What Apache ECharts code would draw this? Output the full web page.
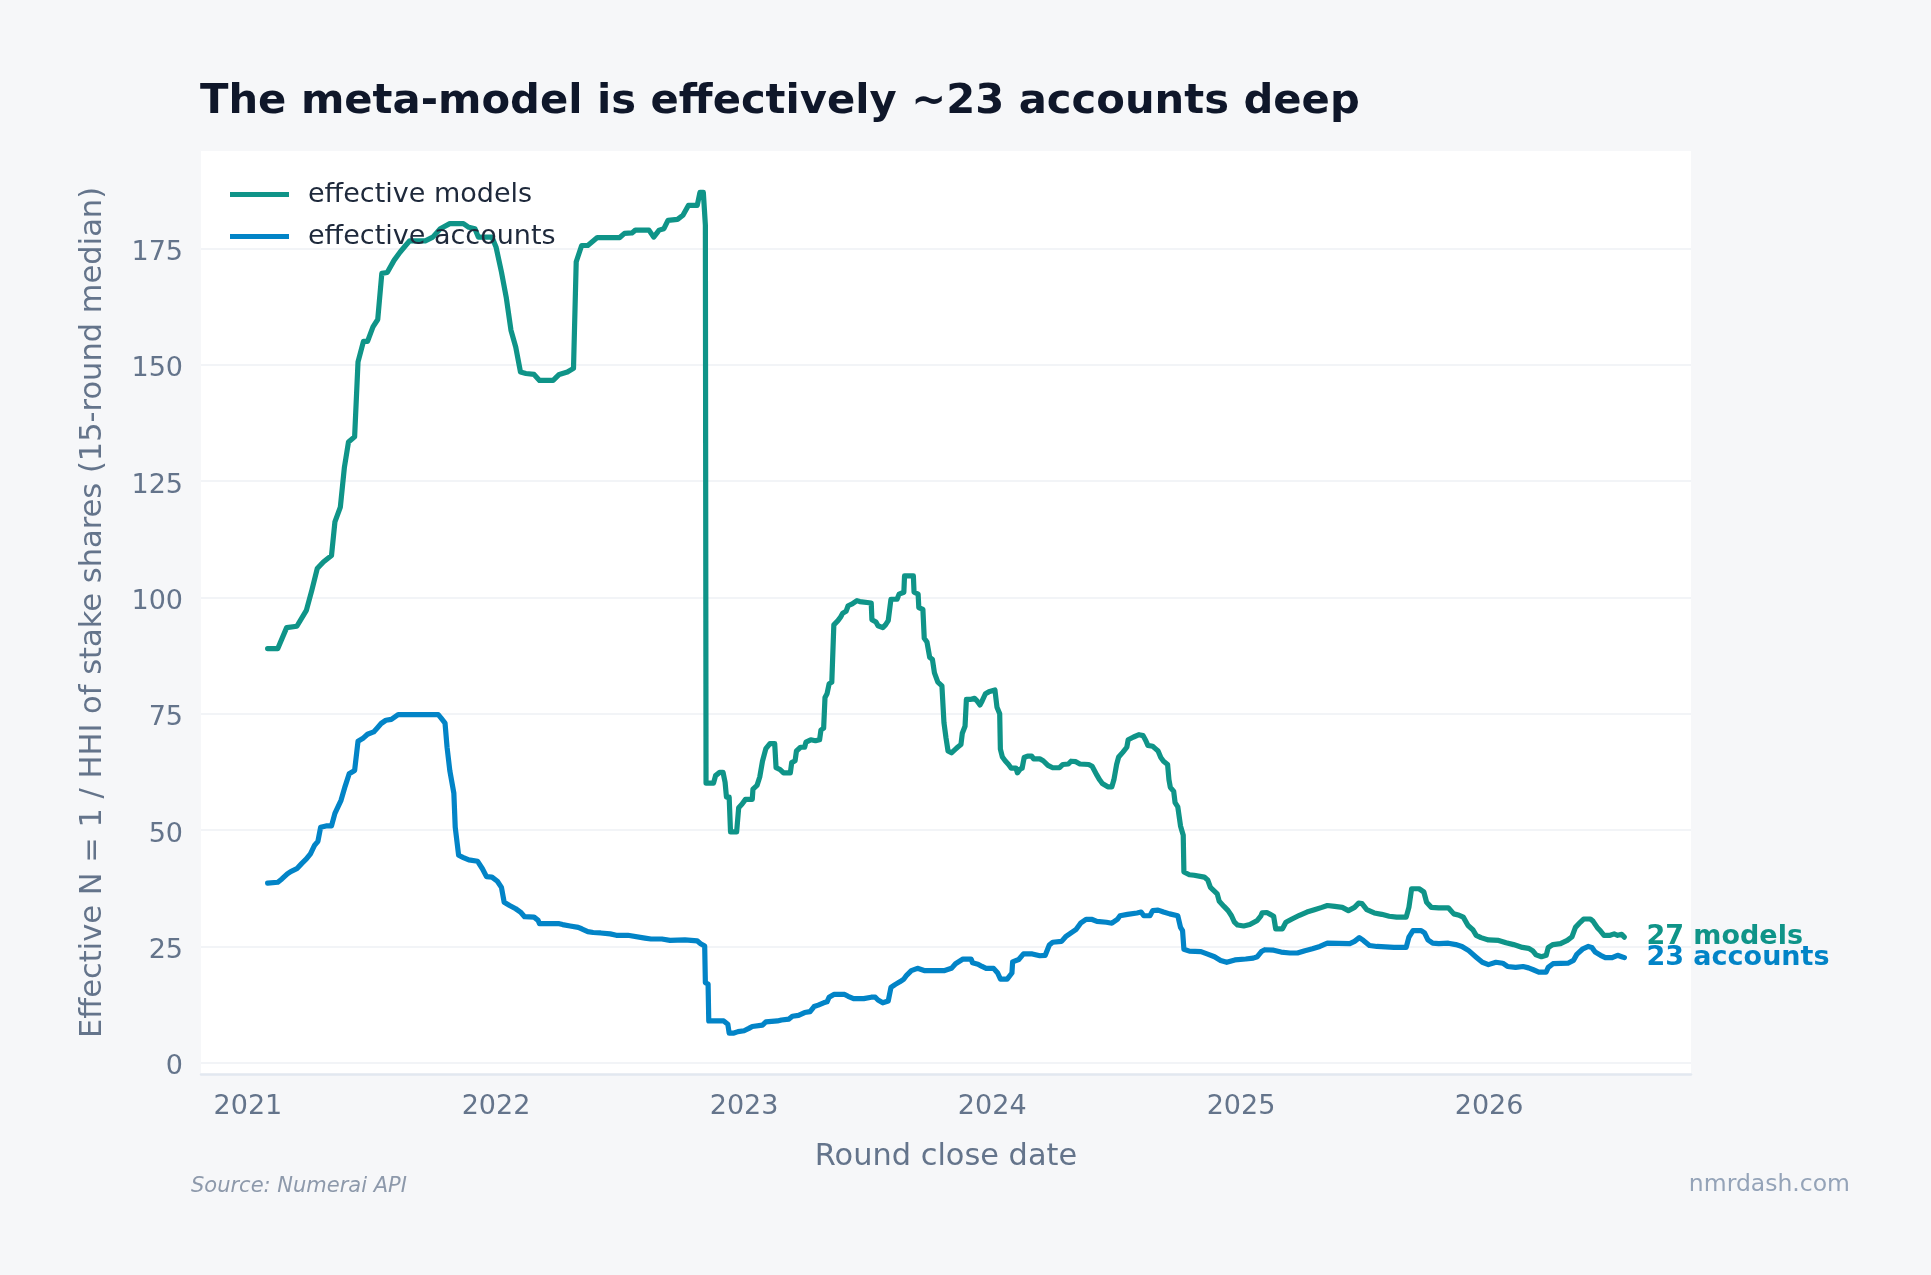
<!DOCTYPE html>
<html style="height: 100%">
<head>
    <meta charset="utf-8">
</head>
<body style="height: 100%; margin: 0; background: #f6f7f9">
<div id="container" style="width: 1931px; height: 1275px"></div>

<script type="text/javascript" src="https://cdn.jsdelivr.net/npm/echarts@6/dist/echarts.min.js"></script>
<script type="text/javascript">
    // effective number of models (1 / HHI of stake shares, 15-round median)
    var modelsSeries = [
        ['2021-01-30', 89.0], ['2021-02-14', 89.0], ['2021-02-27', 93.5], ['2021-03-14', 93.8], ['2021-03-28', 97.2],
        ['2021-04-05', 101.5], ['2021-04-13', 106.2], ['2021-04-22', 107.6], ['2021-05-04', 109.0], ['2021-05-09', 116.2],
        ['2021-05-17', 119.4], ['2021-05-23', 128.0], ['2021-05-29', 133.4], ['2021-06-07', 134.5], ['2021-06-12', 150.6],
        ['2021-06-20', 155.0], ['2021-06-26', 155.0], ['2021-07-04', 158.1], ['2021-07-11', 159.7], ['2021-07-17', 169.6],
        ['2021-07-25', 169.8], ['2021-08-04', 172.4], ['2021-08-13', 174.2], ['2021-08-21', 175.6], ['2021-08-27', 176.6],
        ['2021-09-19', 176.6], ['2021-09-30', 177.4], ['2021-10-11', 179.2], ['2021-10-25', 180.3], ['2021-11-14', 180.3],
        ['2021-11-22', 179.5], ['2021-12-01', 179.2], ['2021-12-06', 177.4], ['2021-12-26', 177.4], ['2022-01-01', 175.3],
        ['2022-01-09', 169.9], ['2022-01-16', 164.5], ['2022-01-23', 157.4], ['2022-01-30', 153.8], ['2022-02-06', 148.4],
        ['2022-02-14', 148.1], ['2022-02-26', 147.9], ['2022-03-06', 146.6], ['2022-03-26', 146.6], ['2022-04-04', 147.9],
        ['2022-04-16', 148.4], ['2022-04-25', 149.2], ['2022-04-29', 172.1], ['2022-05-07', 175.6], ['2022-05-16', 175.6],
        ['2022-05-30', 177.3], ['2022-07-02', 177.3], ['2022-07-09', 178.2], ['2022-07-20', 178.3], ['2022-07-25', 178.9],
        ['2022-08-14', 178.9], ['2022-08-21', 177.4], ['2022-08-29', 178.9], ['2022-09-05', 179.2], ['2022-09-11', 181.0],
        ['2022-09-25', 181.2], ['2022-10-03', 182.1], ['2022-10-11', 184.2], ['2022-10-24', 184.2], ['2022-10-28', 187.0],
        ['2022-11-02', 187.0], ['2022-11-05', 180.0], ['2022-11-06', 60.1], ['2022-11-17', 60.1], ['2022-11-20', 61.7],
        ['2022-11-26', 62.4], ['2022-12-01', 62.4], ['2022-12-04', 60.3], ['2022-12-06', 57.1], ['2022-12-10', 57.1],
        ['2022-12-12', 49.6], ['2022-12-21', 49.6], ['2022-12-24', 54.8], ['2022-12-29', 55.6], ['2023-01-03', 56.6],
        ['2023-01-13', 56.6], ['2023-01-14', 58.8], ['2023-01-20', 59.6], ['2023-01-24', 61.4], ['2023-01-28', 64.8],
        ['2023-02-02', 67.5], ['2023-02-08', 68.6], ['2023-02-15', 68.6], ['2023-02-17', 63.4], ['2023-02-23', 63.0],
        ['2023-02-28', 62.3], ['2023-03-10', 62.3], ['2023-03-12', 64.5], ['2023-03-17', 64.9], ['2023-03-19', 67.0],
        ['2023-03-25', 67.8], ['2023-03-31', 67.8], ['2023-04-02', 68.9], ['2023-04-09', 69.4], ['2023-04-16', 69.2],
        ['2023-04-22', 69.4], ['2023-04-24', 71.5], ['2023-04-28', 71.9], ['2023-04-30', 78.5], ['2023-05-03', 79.3],
        ['2023-05-06', 81.4], ['2023-05-10', 81.8], ['2023-05-13', 94.1], ['2023-05-19', 95.0], ['2023-05-23', 95.8],
        ['2023-05-26', 96.6], ['2023-05-31', 97.0], ['2023-06-03', 98.2], ['2023-06-09', 98.6], ['2023-06-16', 99.3],
        ['2023-06-20', 99.1], ['2023-07-07', 98.8], ['2023-07-08', 95.2], ['2023-07-14', 94.7], ['2023-07-17', 93.9],
        ['2023-07-24', 93.5], ['2023-07-28', 94.1], ['2023-08-01', 95.0], ['2023-08-05', 99.6], ['2023-08-14', 99.6],
        ['2023-08-17', 100.7], ['2023-08-24', 101.1], ['2023-08-25', 104.6], ['2023-09-07', 104.6], ['2023-09-08', 101.1],
        ['2023-09-14', 100.7], ['2023-09-15', 97.8], ['2023-09-21', 97.4], ['2023-09-23', 91.2], ['2023-09-27', 90.4],
        ['2023-10-01', 87.1], ['2023-10-05', 86.7], ['2023-10-08', 83.8], ['2023-10-13', 81.8], ['2023-10-19', 81.0],
        ['2023-10-22', 73.1], ['2023-10-25', 69.8], ['2023-10-28', 67.0], ['2023-11-02', 66.6], ['2023-11-08', 67.4],
        ['2023-11-11', 67.8], ['2023-11-16', 68.4], ['2023-11-18', 70.8], ['2023-11-22', 72.3], ['2023-11-24', 78.1],
        ['2023-12-01', 78.1], ['2023-12-06', 78.3], ['2023-12-10', 77.7], ['2023-12-14', 76.9], ['2023-12-17', 77.7],
        ['2023-12-22', 79.3], ['2023-12-27', 79.7], ['2024-01-05', 80.1], ['2024-01-08', 76.4], ['2024-01-12', 75.0],
        ['2024-01-13', 67.4], ['2024-01-16', 65.7], ['2024-01-20', 64.9], ['2024-01-25', 64.1], ['2024-01-29', 63.3],
        ['2024-02-05', 63.3], ['2024-02-07', 62.3], ['2024-02-11', 63.1], ['2024-02-14', 63.3], ['2024-02-17', 65.6],
        ['2024-02-22', 65.9], ['2024-02-28', 65.9], ['2024-03-02', 65.3], ['2024-03-11', 65.3], ['2024-03-16', 64.9],
        ['2024-03-23', 63.9], ['2024-03-30', 63.4], ['2024-04-09', 63.4], ['2024-04-14', 64.1], ['2024-04-22', 64.2],
        ['2024-04-26', 64.8], ['2024-05-03', 64.7], ['2024-05-09', 64.2], ['2024-05-22', 64.1], ['2024-05-27', 63.7],
        ['2024-06-03', 61.8], ['2024-06-07', 60.8], ['2024-06-11', 60.0], ['2024-06-19', 59.3], ['2024-06-25', 59.3],
        ['2024-06-28', 60.8], ['2024-07-02', 64.1], ['2024-07-05', 65.7], ['2024-07-11', 66.7], ['2024-07-17', 67.8],
        ['2024-07-19', 69.4], ['2024-07-27', 70.0], ['2024-08-04', 70.5], ['2024-08-10', 70.3], ['2024-08-14', 69.2],
        ['2024-08-17', 68.2], ['2024-08-24', 68.0], ['2024-08-28', 67.5], ['2024-09-01', 67.0], ['2024-09-05', 65.6],
        ['2024-09-09', 64.8], ['2024-09-15', 64.1], ['2024-09-17', 60.8], ['2024-09-19', 59.2], ['2024-09-24', 58.3],
        ['2024-09-26', 55.9], ['2024-09-30', 55.0], ['2024-10-04', 50.9], ['2024-10-08', 48.9], ['2024-10-09', 41.0],
        ['2024-10-17', 40.4], ['2024-10-24', 40.3], ['2024-11-08', 39.9], ['2024-11-13', 39.3], ['2024-11-17', 37.7],
        ['2024-11-22', 37.0], ['2024-11-27', 36.3], ['2024-11-30', 34.7], ['2024-12-07', 33.6], ['2024-12-13', 32.7],
        ['2024-12-18', 31.6], ['2024-12-22', 30.3], ['2024-12-27', 29.6], ['2025-01-05', 29.4], ['2025-01-14', 29.7],
        ['2025-01-25', 30.6], ['2025-01-30', 31.5], ['2025-02-01', 32.2], ['2025-02-08', 32.3], ['2025-02-13', 31.9],
        ['2025-02-18', 31.5], ['2025-02-21', 28.8], ['2025-03-03', 28.8], ['2025-03-08', 30.2], ['2025-03-17', 30.9],
        ['2025-03-28', 31.7], ['2025-04-08', 32.4], ['2025-04-19', 32.9], ['2025-04-30', 33.4], ['2025-05-08', 33.8],
        ['2025-05-19', 33.6], ['2025-05-30', 33.4], ['2025-06-08', 32.7], ['2025-06-17', 33.4], ['2025-06-23', 34.3],
        ['2025-06-28', 34.2], ['2025-07-05', 32.9], ['2025-07-16', 32.2], ['2025-07-27', 31.9], ['2025-08-07', 31.5],
        ['2025-08-18', 31.3], ['2025-09-01', 31.3], ['2025-09-05', 33.4], ['2025-09-09', 37.4], ['2025-09-20', 37.4],
        ['2025-09-27', 36.7], ['2025-10-01', 34.5], ['2025-10-08', 33.4], ['2025-10-19', 33.3], ['2025-11-02', 33.3],
        ['2025-11-10', 32.0], ['2025-11-18', 31.7], ['2025-11-24', 31.3], ['2025-12-01', 29.5], ['2025-12-08', 28.6],
        ['2025-12-13', 27.4], ['2025-12-20', 26.9], ['2025-12-31', 26.4], ['2026-01-15', 26.3], ['2026-01-26', 25.8],
        ['2026-02-06', 25.4], ['2026-02-19', 24.8], ['2026-02-28', 24.6], ['2026-03-06', 24.1], ['2026-03-11', 23.2],
        ['2026-03-19', 22.8], ['2026-03-26', 23.1], ['2026-03-29', 24.8], ['2026-04-05', 25.4], ['2026-04-16', 25.6],
        ['2026-04-26', 26.3], ['2026-05-03', 27.1], ['2026-05-08', 29.1], ['2026-05-15', 30.2], ['2026-05-20', 30.9],
        ['2026-05-30', 30.9], ['2026-06-03', 30.4], ['2026-06-09', 29.1], ['2026-06-14', 28.3], ['2026-06-19', 27.4],
        ['2026-06-28', 27.4], ['2026-07-04', 27.7], ['2026-07-09', 27.4], ['2026-07-15', 27.6], ['2026-07-19', 27.0]
    ];

    // effective number of accounts
    var accountsSeries = [
        ['2021-01-30', 38.6], ['2021-02-14', 38.8], ['2021-02-20', 39.5], ['2021-02-28', 40.6], ['2021-03-05', 41.1],
        ['2021-03-14', 41.7], ['2021-03-21', 42.8], ['2021-03-28', 43.8], ['2021-04-03', 44.9], ['2021-04-09', 46.7],
        ['2021-04-14', 47.6], ['2021-04-18', 50.6], ['2021-04-26', 50.9], ['2021-05-04', 50.9], ['2021-05-09', 53.6],
        ['2021-05-18', 56.4], ['2021-05-24', 59.4], ['2021-05-30', 62.1], ['2021-06-07', 62.8], ['2021-06-12', 69.1],
        ['2021-06-20', 69.8], ['2021-06-26', 70.6], ['2021-07-05', 71.1], ['2021-07-10', 71.9], ['2021-07-16', 72.9],
        ['2021-07-23', 73.6], ['2021-07-31', 73.8], ['2021-08-10', 74.8], ['2021-10-08', 74.8], ['2021-10-12', 74.1],
        ['2021-10-18', 73.0], ['2021-10-21', 67.8], ['2021-10-25', 62.8], ['2021-10-31', 57.9], ['2021-11-02', 50.6],
        ['2021-11-07', 44.6], ['2021-11-14', 44.1], ['2021-11-22', 43.6], ['2021-12-05', 43.3], ['2021-12-12', 41.7],
        ['2021-12-18', 40.0], ['2021-12-26', 39.9], ['2022-01-03', 39.0], ['2022-01-09', 37.7], ['2022-01-13', 34.5],
        ['2022-01-21', 33.8], ['2022-01-30', 33.1], ['2022-02-06', 32.4], ['2022-02-12', 31.4], ['2022-02-26', 31.3],
        ['2022-03-04', 30.6], ['2022-03-06', 29.9], ['2022-04-04', 29.9], ['2022-04-09', 29.7], ['2022-04-20', 29.4],
        ['2022-05-02', 29.1], ['2022-05-07', 28.8], ['2022-05-16', 28.2], ['2022-05-24', 28.0], ['2022-06-04', 27.9],
        ['2022-06-18', 27.7], ['2022-06-27', 27.4], ['2022-07-14', 27.4], ['2022-08-08', 26.8], ['2022-08-17', 26.6],
        ['2022-09-02', 26.6], ['2022-09-14', 26.3], ['2022-10-06', 26.4], ['2022-10-24', 26.2], ['2022-10-29', 25.6],
        ['2022-11-04', 25.1], ['2022-11-05', 17.2], ['2022-11-09', 16.9], ['2022-11-10', 9.0], ['2022-12-02', 9.0],
        ['2022-12-08', 8.3], ['2022-12-10', 6.4], ['2022-12-17', 6.4], ['2022-12-23', 6.7], ['2023-01-01', 6.9],
        ['2023-01-08', 7.4], ['2023-01-13', 7.8], ['2023-01-28', 8.1], ['2023-02-02', 8.8], ['2023-02-19', 9.0],
        ['2023-02-25', 9.2], ['2023-03-08', 9.4], ['2023-03-13', 10.0], ['2023-03-22', 10.2], ['2023-03-31', 10.8],
        ['2023-04-08', 11.0], ['2023-04-14', 12.1], ['2023-04-20', 12.4], ['2023-04-28', 12.9], ['2023-05-03', 13.1],
        ['2023-05-06', 14.1], ['2023-05-13', 14.7], ['2023-05-29', 14.7], ['2023-06-03', 14.3], ['2023-06-11', 13.8],
        ['2023-06-26', 13.8], ['2023-07-07', 14.1], ['2023-07-13', 14.1], ['2023-07-17', 13.5], ['2023-07-24', 12.9],
        ['2023-08-01', 13.3], ['2023-08-05', 16.2], ['2023-08-11', 16.8], ['2023-08-18', 17.4], ['2023-08-24', 18.0],
        ['2023-08-28', 18.8], ['2023-09-04', 19.8], ['2023-09-13', 20.3], ['2023-09-24', 19.8], ['2023-10-22', 19.8],
        ['2023-11-02', 20.3], ['2023-11-08', 21.3], ['2023-11-19', 22.3], ['2023-12-01', 22.3], ['2023-12-03', 21.5],
        ['2023-12-11', 21.2], ['2023-12-17', 20.7], ['2023-12-23', 20.3], ['2024-01-03', 20.3], ['2024-01-09', 19.3],
        ['2024-01-13', 18.0], ['2024-01-23', 18.0], ['2024-01-30', 19.3], ['2024-01-31', 21.7], ['2024-02-09', 22.2],
        ['2024-02-16', 23.4], ['2024-02-29', 23.4], ['2024-03-11', 23.0], ['2024-03-19', 23.1], ['2024-03-25', 25.3],
        ['2024-03-30', 25.9], ['2024-04-12', 26.1], ['2024-04-18', 27.1], ['2024-04-26', 27.9], ['2024-05-03', 28.6],
        ['2024-05-10', 30.0], ['2024-05-18', 30.8], ['2024-05-27', 30.8], ['2024-06-03', 30.4], ['2024-06-17', 30.2],
        ['2024-06-25', 30.0], ['2024-07-03', 30.8], ['2024-07-07', 31.6], ['2024-07-18', 31.9], ['2024-08-01', 32.2],
        ['2024-08-07', 32.4], ['2024-08-11', 31.6], ['2024-08-20', 31.6], ['2024-08-24', 32.7], ['2024-09-01', 32.8],
        ['2024-09-09', 32.4], ['2024-09-18', 32.0], ['2024-09-30', 31.6], ['2024-10-04', 29.1], ['2024-10-07', 28.4],
        ['2024-10-09', 24.4], ['2024-10-17', 24.0], ['2024-11-03', 23.9], ['2024-11-12', 23.4], ['2024-11-23', 22.8],
        ['2024-12-02', 22.0], ['2024-12-11', 21.6], ['2024-12-23', 22.1], ['2025-01-08', 22.3], ['2025-01-19', 22.5],
        ['2025-01-25', 22.8], ['2025-01-31', 23.9], ['2025-02-05', 24.3], ['2025-02-18', 24.2], ['2025-03-01', 23.8],
        ['2025-03-14', 23.6], ['2025-03-25', 23.6], ['2025-04-05', 24.1], ['2025-04-16', 24.5], ['2025-04-27', 25.0],
        ['2025-05-08', 25.7], ['2025-06-10', 25.6], ['2025-06-17', 26.1], ['2025-06-24', 26.9], ['2025-06-30', 26.3],
        ['2025-07-09', 25.2], ['2025-07-20', 25.0], ['2025-08-14', 24.8], ['2025-09-01', 24.8], ['2025-09-05', 27.0],
        ['2025-09-11', 28.4], ['2025-09-23', 28.4], ['2025-09-28', 27.9], ['2025-10-03', 26.4], ['2025-10-10', 25.7],
        ['2025-10-19', 25.6], ['2025-11-02', 25.7], ['2025-11-13', 25.4], ['2025-11-22', 25.0], ['2025-12-02', 24.1],
        ['2025-12-13', 22.7], ['2025-12-22', 21.6], ['2025-12-31', 21.1], ['2026-01-11', 21.6], ['2026-01-21', 21.4],
        ['2026-01-28', 20.7], ['2026-02-09', 20.5], ['2026-02-20', 20.7], ['2026-02-28', 20.4], ['2026-03-07', 20.0],
        ['2026-03-15', 19.5], ['2026-03-26', 19.5], ['2026-03-29', 20.5], ['2026-04-05', 21.3], ['2026-04-27', 21.4],
        ['2026-05-05', 22.0], ['2026-05-10', 23.3], ['2026-05-19', 24.5], ['2026-05-27', 25.0], ['2026-06-01', 24.8],
        ['2026-06-06', 23.8], ['2026-06-14', 23.1], ['2026-06-21', 22.6], ['2026-07-01', 22.6], ['2026-07-09', 23.1],
        ['2026-07-15', 22.8], ['2026-07-19', 22.6]
    ];

    var yTicks = [0, 25, 50, 75, 100, 125, 150, 175];
    var dateRange = ['2020-10-24', '2026-10-25'];

    var TEAL = '#0f9488';
    var BLUE = '#0284c7';
    var MUTED = '#64748b';
    var FONT = '"DejaVu Sans", sans-serif';

    var dom = document.getElementById('container');
    var myChart = echarts.init(dom, null, {renderer: 'canvas'});

    var option = {
        animation: false,
        backgroundColor: '#f6f7f9',
        textStyle: {fontFamily: FONT},
        title: {
            text: 'The meta-model is effectively ~23 accounts deep',
            left: 200,
            top: 81,
            padding: 0,
            textStyle: {fontSize: 41.7, fontWeight: 'bold', color: '#0f172a', fontFamily: FONT}
        },
        legend: {
            orient: 'vertical',
            left: 225,
            top: 176,
            itemWidth: 59,
            itemHeight: 5,
            itemGap: 15,
            icon: 'rect',
            data: ['effective models', 'effective accounts'],
            textStyle: {fontSize: 27, color: '#1e293b', fontFamily: FONT, padding: [0, 0, 0, 14]}
        },
        grid: {
            left: 201,
            right: 240,
            top: 151,
            bottom: 201,
            show: true,
            backgroundColor: '#ffffff',
            borderWidth: 0,
            containLabel: false,
            outerBoundsMode: 'none'
        },
        xAxis: {
            type: 'time',
            min: dateRange[0],
            max: dateRange[1],
            splitNumber: 6,
            name: 'Round close date',
            nameLocation: 'middle',
            nameGap: 68,
            nameMoveOverlap: false,
            nameTextStyle: {fontSize: 30.4, color: MUTED, fontFamily: FONT},
            axisLine: {show: true, onZero: false, lineStyle: {color: '#e2e8f0', width: 2.5}},
            axisTick: {show: false},
            splitLine: {show: false},
            axisLabel: {
                fontSize: 27,
                color: MUTED,
                margin: 19,
                fontFamily: FONT,
                hideOverlap: false,
                formatter: function (value) {
                    var d = new Date(value);
                    return (d.getMonth() === 0 && d.getDate() === 1) ? String(d.getFullYear()) : '';
                }
            }
        },
        yAxis: {
            type: 'value',
            min: -2.4,
            max: 195.9,
            minInterval: 25,
            maxInterval: 25,
            name: 'Effective N = 1 / HHI of stake shares (15-round median)',
            nameLocation: 'middle',
            nameGap: 92,
            nameMoveOverlap: false,
            nameTextStyle: {fontSize: 30.5, color: MUTED, fontFamily: FONT},
            axisLine: {show: false},
            axisTick: {show: false},
            axisLabel: {
                margin: 18,
                showMinLabel: false,
                showMaxLabel: false,
                formatter: function (v) {
                    return yTicks.indexOf(v) >= 0 ? '{t|' + v + '}' : '';
                },
                rich: {
                    t: {fontSize: 27, color: MUTED, fontFamily: FONT, padding: [9, 0, 0, 0]}
                }
            },
            splitLine: {
                show: true,
                showMinLine: false,
                showMaxLine: false,
                lineStyle: {color: '#eef1f4', width: 1.5}
            }
        },
        graphic: [
            {
                type: 'text',
                left: 191,
                top: 1176,
                style: {text: 'Source: Numerai API', font: 'italic 21px "DejaVu Sans"', fill: '#8d99ab'}
            },
            {
                type: 'text',
                right: 81,
                top: 1173,
                style: {text: 'nmrdash.com', font: '23.5px "DejaVu Sans"', fill: '#94a3b8'}
            }
        ],
        series: [
            {
                name: 'effective models',
                type: 'line',
                data: modelsSeries,
                symbol: 'none',
                showSymbol: false,
                color: TEAL,
                lineStyle: {width: 5.2, color: TEAL, join: 'round', cap: 'round'},
                emphasis: {disabled: true},
                endLabel: {
                    show: true,
                    distance: 22,
                    color: TEAL,
                    fontSize: 27,
                    fontWeight: 'bold',
                    fontFamily: FONT,
                    formatter: function (p) { return Math.round(p.value[1]) + ' models'; }
                }
            },
            {
                name: 'effective accounts',
                type: 'line',
                data: accountsSeries,
                symbol: 'none',
                showSymbol: false,
                color: BLUE,
                lineStyle: {width: 5.2, color: BLUE, join: 'round', cap: 'round'},
                emphasis: {disabled: true},
                endLabel: {
                    show: true,
                    distance: 22,
                    color: BLUE,
                    fontSize: 27,
                    fontWeight: 'bold',
                    fontFamily: FONT,
                    formatter: function (p) { return Math.round(p.value[1]) + ' accounts'; }
                }
            }
        ]
    };

    if (option && typeof option === 'object') {
        myChart.setOption(option);
    }
</script>
</body>
</html>
